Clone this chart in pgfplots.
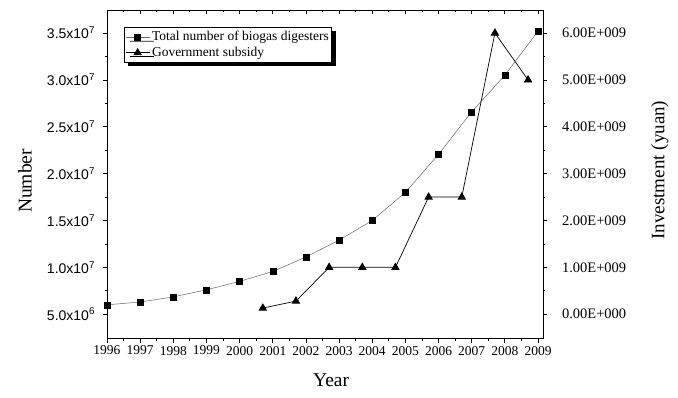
\documentclass[border=0pt]{standalone}
\usepackage{pgfplots}
\pgfplotsset{compat=1.18}
\usepackage{fontspec}
\setmainfont{Liberation Serif}
\setsansfont{Liberation Sans}
\usetikzlibrary{shadows}

\pgfplotsset{
  base/.style={
    scale only axis, width=436pt, height=328pt,
    at={(0pt,0pt)}, anchor=south west,
    xmin=1996, xmax=2009.15,
    axis line style={line width=0.9pt},
    major tick length=4.5pt, minor tick length=2.5pt,
    every tick/.style={line width=0.8pt, black},
    scaled x ticks=false, scaled y ticks=false,
    clip=false,
  },
}

\begin{document}
\begin{tikzpicture}
% left axis: number of digesters
\begin{axis}[base,
  ymin=2.46e6, ymax=3.746e7,
  tick align=outside,
  xtick={1996,1997,1998,1999,2000,2001,2002,2003,2004,2005,2006,2007,2008,2009},
  xticklabels={1996,1997,1998,1999,2000,2001,2002,2003,2004,2005,2006,2007,2008,2009},
  minor x tick num=1,
  xtick pos=left, ytick pos=left,
  ytick={5e6,1e7,1.5e7,2e7,2.5e7,3e7,3.5e7},
  yticklabels={5.0x10\textsuperscript{6},1.0x10\textsuperscript{7},1.5x10\textsuperscript{7},2.0x10\textsuperscript{7},2.5x10\textsuperscript{7},3.0x10\textsuperscript{7},3.5x10\textsuperscript{7}},
  minor y tick num=1,
  xticklabel style={font=\fontsize{13.5}{15}\selectfont},
  yticklabel style={font=\sffamily\fontsize{14}{16}\selectfont, xshift=-4pt},
  xlabel={Year}, ylabel={Number},
  xlabel style={font=\fontsize{19.5}{22}\selectfont, at={(axis description cs:0.514,-0.128)}, anchor=center},
  ylabel style={font=\fontsize{19.5}{22}\selectfont, at={(axis description cs:-0.188,0.479)}, anchor=center},
]
\addplot[color=black!60, line width=0.5pt, mark=square*, mark size=3pt,
  mark options={fill=black, draw=black, solid}] coordinates {
  (1996,6.0e6) (1997,6.3e6) (1998,6.85e6) (1999,7.6e6) (2000,8.5e6)
  (2001,9.56e6) (2002,1.11e7) (2003,1.29e7) (2004,1.50e7) (2005,1.80e7)
  (2006,2.206e7) (2007,2.66e7) (2008,3.05e7) (2009,3.52e7)};
\end{axis}
% right axis: government subsidy
\begin{axis}[base,
  ymin=-0.508e9, ymax=6.492e9,
  tick align=outside,
  xtick=\empty,
  ytick pos=right, yticklabel pos=right,
  ytick={0,1e9,2e9,3e9,4e9,5e9,6e9},
  yticklabels={0.00E+000,1.00E+009,2.00E+009,3.00E+009,4.00E+009,5.00E+009,6.00E+009},
  minor y tick num=1,
  yticklabel style={font=\fontsize{14.5}{16}\selectfont, xshift=11pt},
  ylabel={Investment (yuan)},
  ylabel style={font=\fontsize{19}{22}\selectfont, at={(axis description cs:1.268,0.512)}, anchor=center},
  legend cell align=left,
  legend image code/.code={\draw[mark repeat=2,mark phase=2,#1] plot coordinates {(0pt,0pt) (12pt,0pt) (24pt,0pt)};},
  legend style={at={(axis description cs:0.039,0.948)}, anchor=north west,
    draw=black, line width=0.6pt, fill=white,
    font=\fontsize{13.5}{15}\selectfont,
    inner xsep=1pt, inner ysep=2pt, row sep=1pt,
    drop shadow={shadow xshift=4pt, shadow yshift=-4pt, fill=black, opacity=1}},
]
\addlegendimage{color=black!60, line width=0.5pt, mark=square*, mark size=3pt, mark options={fill=black, draw=black, solid}}
\addlegendentry{Total number of biogas digesters}
\addplot[color=black, line width=0.7pt, mark=triangle*, mark size=4.2pt,
  mark options={fill=black, solid}] coordinates {
  (2000.7,0.13e9) (2001.7,0.28e9) (2002.7,1.0e9) (2003.7,1.0e9) (2004.7,1.0e9)
  (2005.7,2.5e9) (2006.7,2.5e9) (2007.7,6.0e9) (2008.7,5.0e9)};
\addlegendentry{Government subsidy}
\end{axis}
% top ticks pointing inward
\begin{axis}[base,
  ymin=0, ymax=1,
  tick align=inside,
  xtick={1996,1997,1998,1999,2000,2001,2002,2003,2004,2005,2006,2007,2008,2009},
  xticklabels={},
  minor x tick num=1,
  xtick pos=right,
  ytick=\empty,
]
\end{axis}
\path[use as bounding box] (-107pt,-59pt) rectangle (571pt,338pt);
\end{tikzpicture}
\end{document}
